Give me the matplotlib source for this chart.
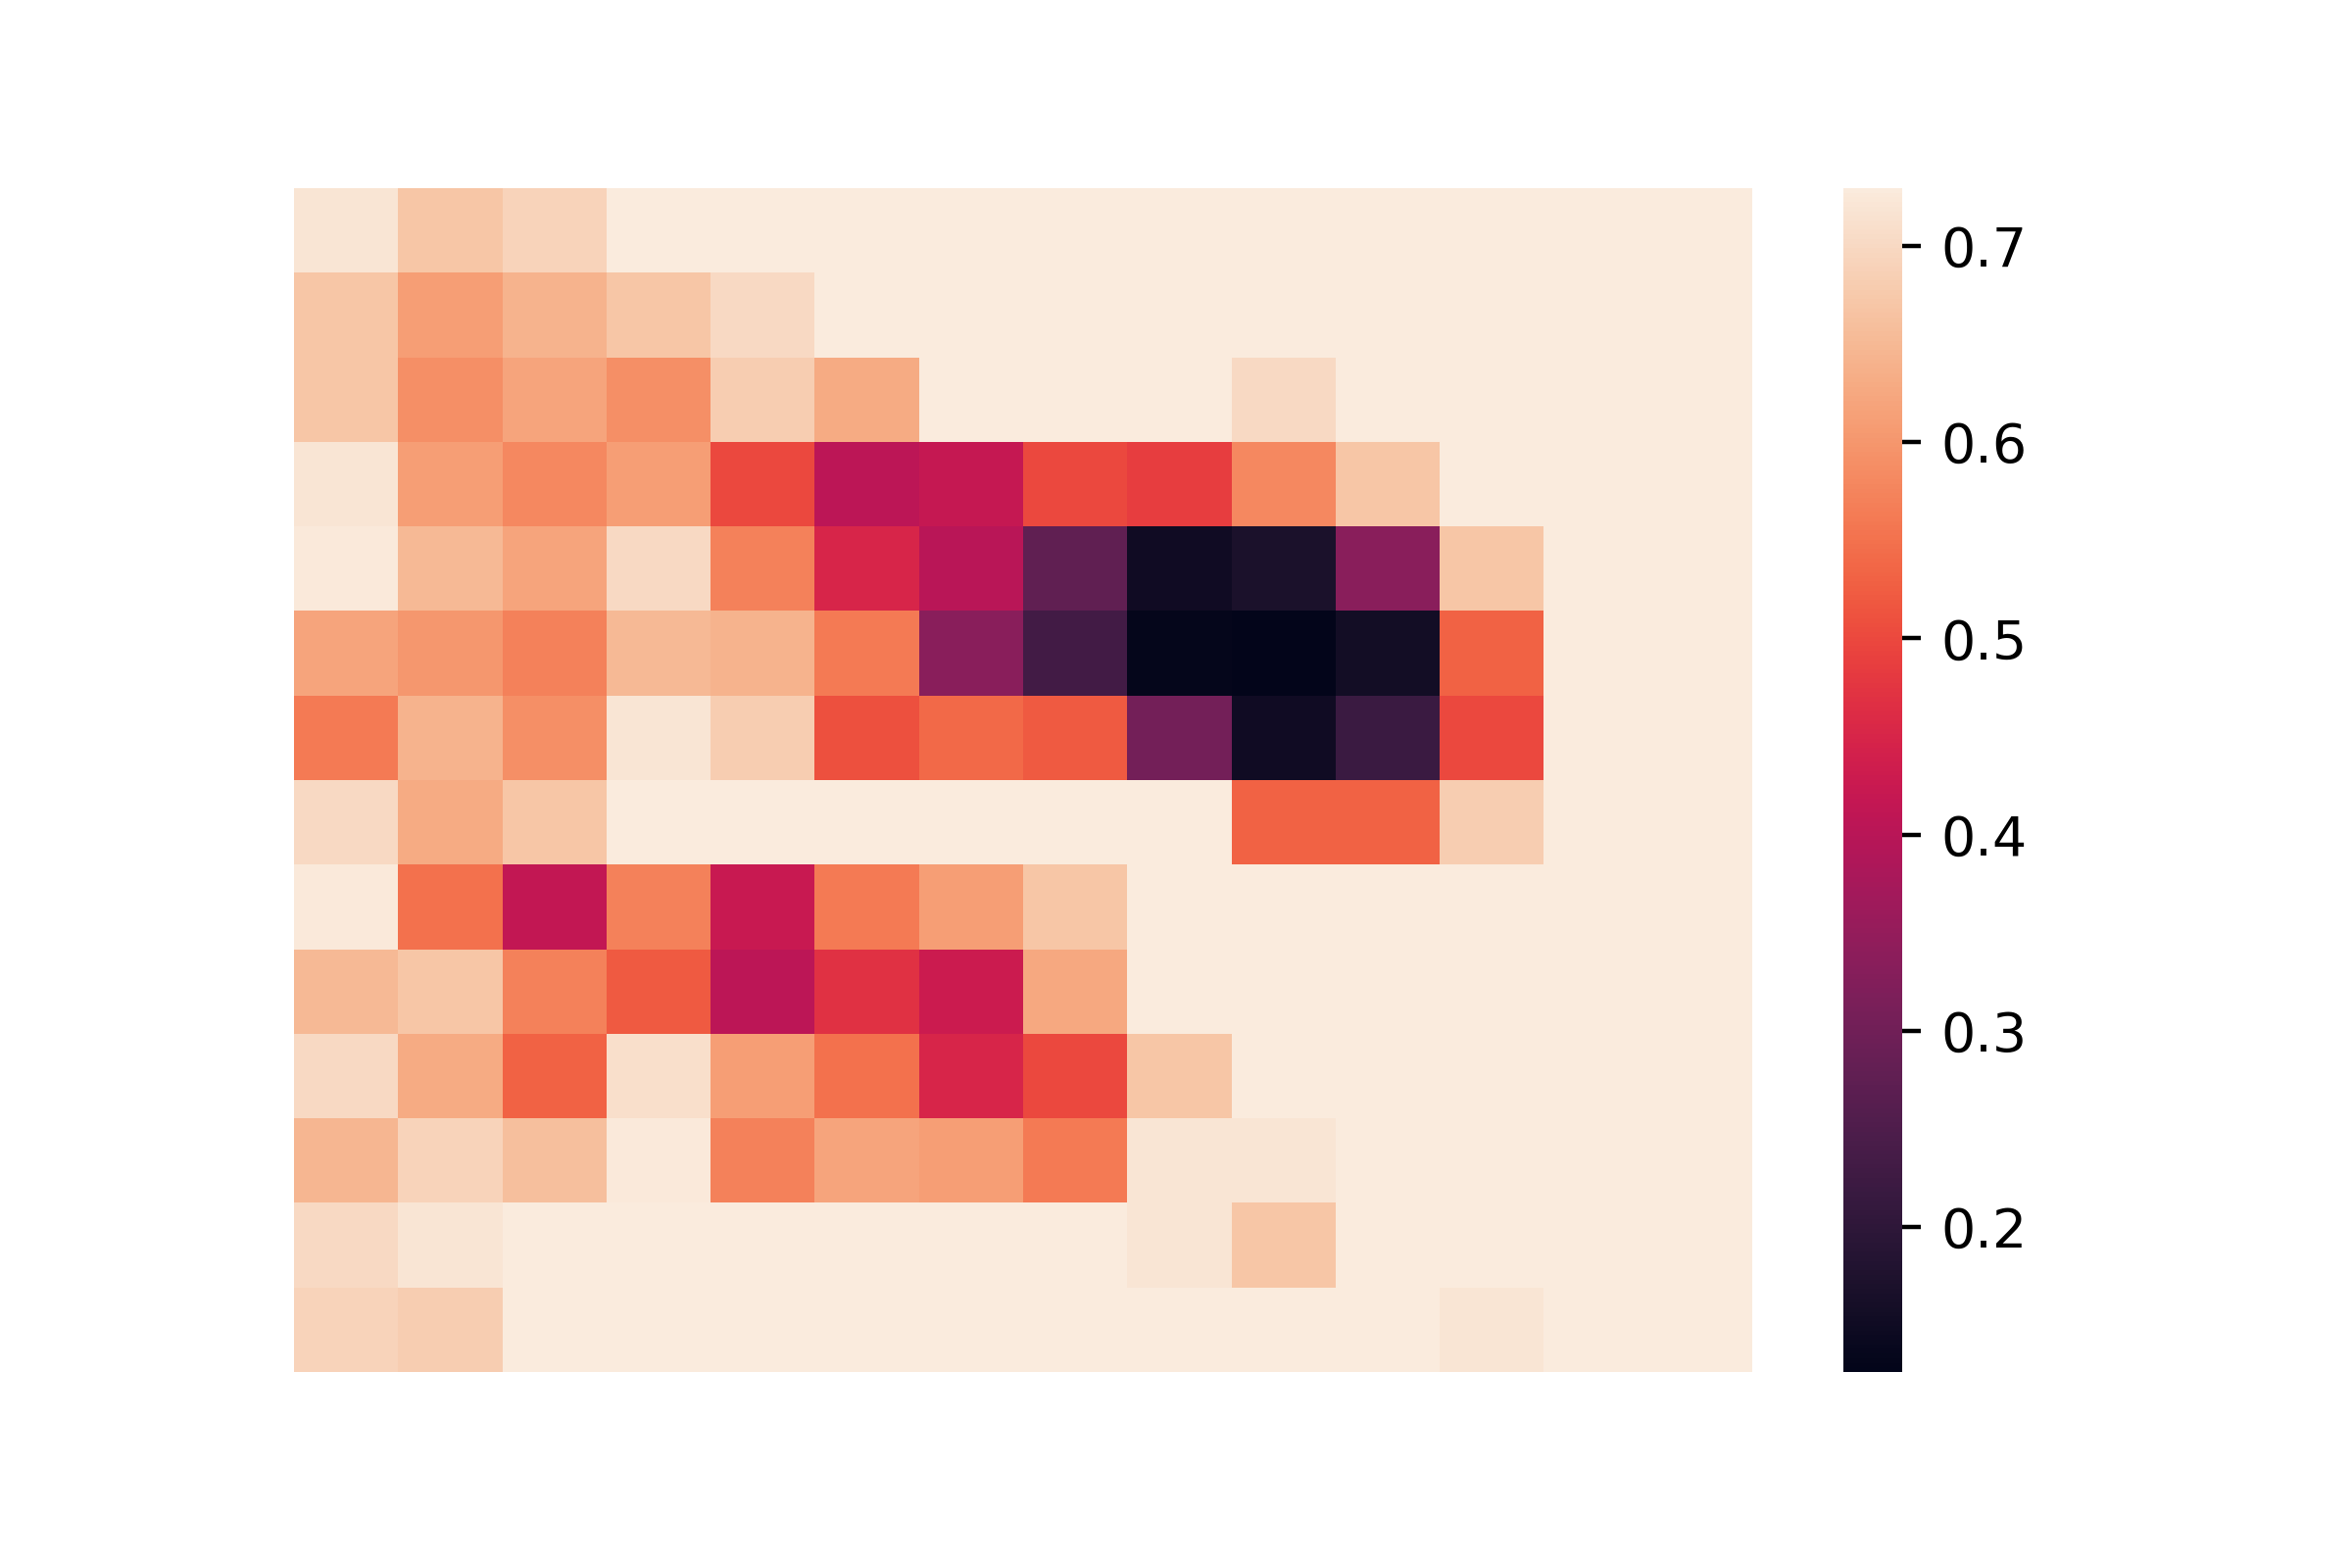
import matplotlib

matplotlib.use("Agg")

import matplotlib.pyplot as plt
import numpy as np
import seaborn as sns

# 14 x 14 grid of values
row_00 = [0.720, 0.670, 0.690, 0.7295, 0.7295, 0.7295, 0.7295, 0.7295, 0.7295, 0.7295, 0.7295, 0.7295, 0.7295, 0.7295]
row_01 = [0.670, 0.610, 0.640, 0.670, 0.700, 0.7295, 0.7295, 0.7295, 0.7295, 0.7295, 0.7295, 0.7295, 0.7295, 0.7295]
row_02 = [0.670, 0.590, 0.620, 0.590, 0.680, 0.630, 0.7295, 0.7295, 0.7295, 0.700, 0.7295, 0.7295, 0.7295, 0.7295]
row_03 = [0.720, 0.610, 0.580, 0.610, 0.500, 0.405, 0.420, 0.500, 0.485, 0.580, 0.670, 0.7295, 0.7295, 0.7295]
row_04 = [0.725, 0.650, 0.620, 0.700, 0.570, 0.450, 0.400, 0.275, 0.150, 0.170, 0.335, 0.670, 0.7295, 0.7295]
row_05 = [0.620, 0.600, 0.570, 0.650, 0.640, 0.560, 0.335, 0.230, 0.132, 0.126, 0.155, 0.530, 0.7295, 0.7295]
row_06 = [0.560, 0.640, 0.590, 0.720, 0.680, 0.510, 0.540, 0.520, 0.305, 0.150, 0.220, 0.500, 0.7295, 0.7295]
row_07 = [0.700, 0.630, 0.670, 0.7295, 0.7295, 0.7295, 0.7295, 0.7295, 0.7295, 0.530, 0.530, 0.680, 0.7295, 0.7295]
row_08 = [0.727, 0.550, 0.415, 0.570, 0.425, 0.560, 0.610, 0.670, 0.7295, 0.7295, 0.7295, 0.7295, 0.7295, 0.7295]
row_09 = [0.650, 0.670, 0.570, 0.520, 0.405, 0.470, 0.430, 0.625, 0.7295, 0.7295, 0.7295, 0.7295, 0.7295, 0.7295]
row_10 = [0.700, 0.630, 0.530, 0.710, 0.610, 0.550, 0.450, 0.500, 0.670, 0.7295, 0.7295, 0.7295, 0.7295, 0.7295]
row_11 = [0.645, 0.690, 0.660, 0.727, 0.570, 0.620, 0.610, 0.560, 0.720, 0.720, 0.7295, 0.7295, 0.7295, 0.7295]
row_12 = [0.700, 0.720, 0.7295, 0.7295, 0.7295, 0.7295, 0.7295, 0.7295, 0.720, 0.670, 0.7295, 0.7295, 0.7295, 0.7295]
row_13 = [0.690, 0.680, 0.7295, 0.7295, 0.7295, 0.7295, 0.7295, 0.7295, 0.7295, 0.7295, 0.7295, 0.720, 0.7295, 0.7295]

rows = [row_00, row_01, row_02, row_03, row_04, row_05, row_06,
        row_07, row_08, row_09, row_10, row_11, row_12, row_13]


def main() -> None:
    grid = np.array(rows)

    fig, ax = plt.subplots(figsize=(6, 4), dpi=400)
    fig.subplots_adjust(left=0.125, right=0.9, top=0.88, bottom=0.125)
    sns.heatmap(grid, ax=ax, xticklabels=False, yticklabels=False)
    fig.savefig("out.png", dpi=400)
    plt.close(fig)


if __name__ == "__main__":
    main()
